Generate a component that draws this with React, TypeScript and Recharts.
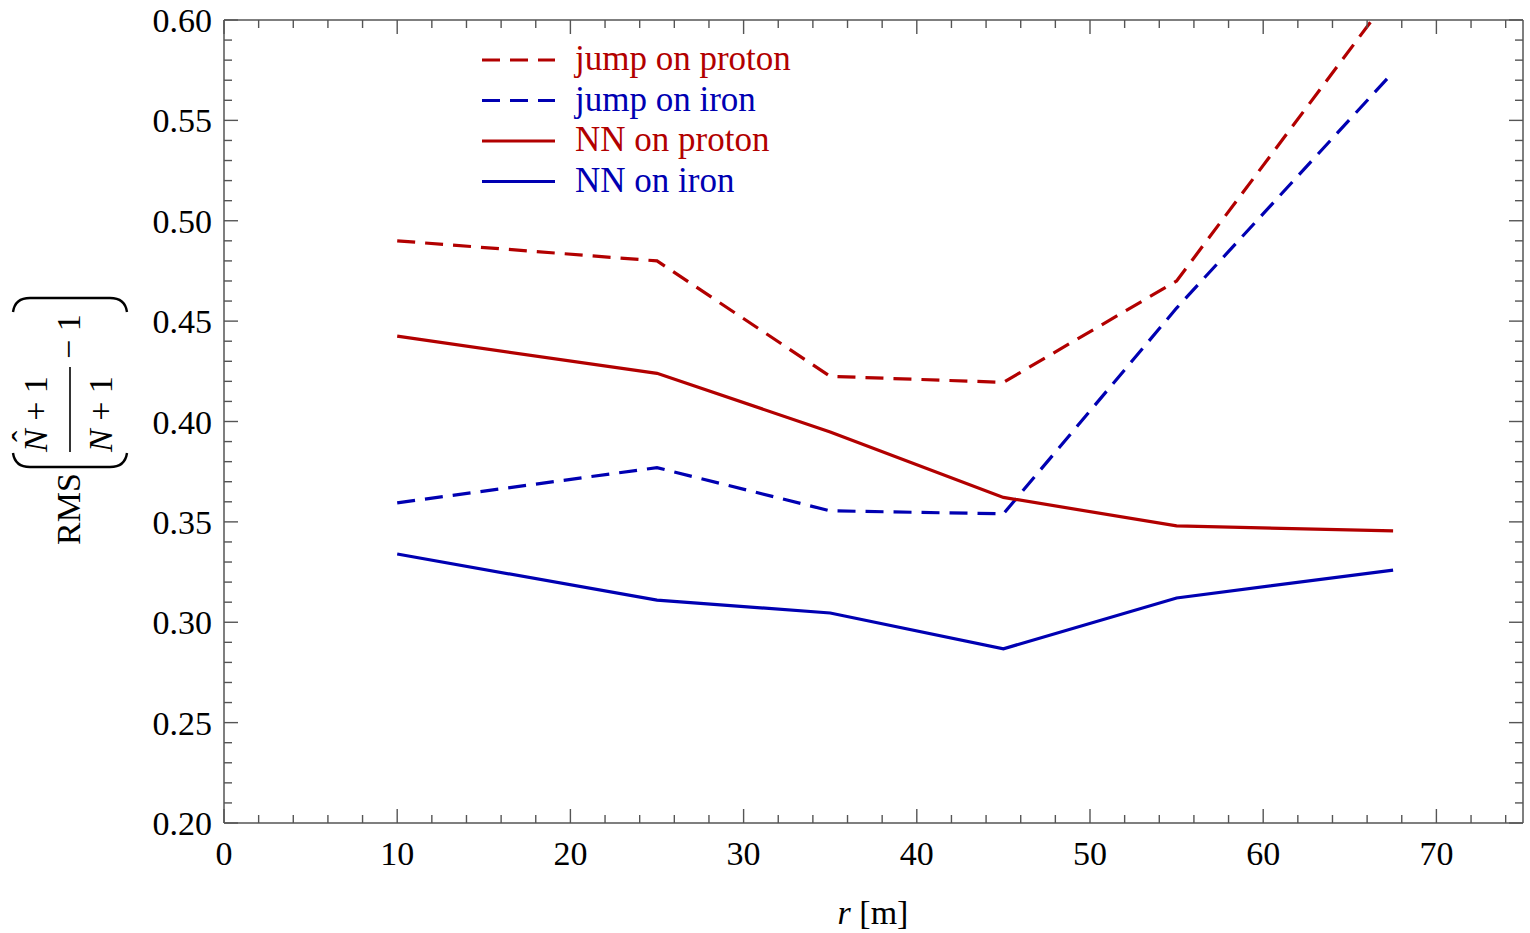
import React from 'react';
import { LineChart, Line, XAxis, YAxis } from 'recharts';

// ---- data ----
const rValues = [10, 25, 35, 45, 55, 67.5];
const jumpProton = [0.49, 0.48, 0.4225, 0.4195, 0.47, 0.614];
const jumpIron = [0.3595, 0.377, 0.3555, 0.354, 0.4565, 0.574];
const nnProton = [0.4425, 0.424, 0.3948, 0.3622, 0.348, 0.3455];
const nnIron = [0.334, 0.311, 0.3046, 0.2868, 0.3121, 0.326];

const seriesNames = ['jump on proton', 'jump on iron', 'NN on proton', 'NN on iron'];
const xMajorTicks = [0, 10, 20, 30, 40, 50, 60, 70];
const yMajorTicks = [0.2, 0.25, 0.3, 0.35, 0.4, 0.45, 0.5, 0.55, 0.6];
const xMinorStep = 2;
const yMinorStep = 0.01;

const xAllTicks: number[] = [];
for (let v = 0; v <= 75; v += xMinorStep) xAllTicks.push(v);
const yAllTicks: number[] = [];
for (let i = 20; i <= 60; i += 1) yAllTicks.push(Math.round(i * yMinorStep * 100) / 100);

const data = rValues.map((r, i) => ({
  r,
  jumpProton: jumpProton[i],
  jumpIron: jumpIron[i],
  nnProton: nnProton[i],
  nnIron: nnIron[i],
}));

const RED = '#b20000';
const BLUE = '#0000b2';
const FRAME = '#555555';
const FONT = '"Liberation Serif", "Times New Roman", serif';
const FS = 34;

const isXMajor = (v: number) => xMajorTicks.some((m) => Math.abs(m - v) < 1e-6);
const isYMajor = (v: number) => yMajorTicks.some((m) => Math.abs(m - v) < 1e-6);

const BottomTick = (props: any) => {
  const { x, y, payload } = props;
  const v = Number(payload.value);
  const major = isXMajor(v);
  return (
    <g>
      <line x1={x} x2={x} y1={y} y2={y - (major ? 14 : 8)} stroke={FRAME} strokeWidth={1.4} />
      {major && (
        <text x={x} y={y + 42} textAnchor="middle" fontSize={FS} fontFamily={FONT} fill="#000">
          {v}
        </text>
      )}
    </g>
  );
};

const TopTick = (props: any) => {
  const { x, y, payload } = props;
  const v = Number(payload.value);
  const major = isXMajor(v);
  return <line x1={x} x2={x} y1={y} y2={y + (major ? 14 : 8)} stroke={FRAME} strokeWidth={1.4} />;
};

const LeftTick = (props: any) => {
  const { x, y, payload } = props;
  const v = Number(payload.value);
  const major = isYMajor(v);
  return (
    <g>
      <line x1={x} x2={x + (major ? 14 : 8)} y1={y} y2={y} stroke={FRAME} strokeWidth={1.4} />
      {major && (
        <text x={x - 12} y={y + 12} textAnchor="end" fontSize={FS} fontFamily={FONT} fill="#000">
          {v.toFixed(2)}
        </text>
      )}
    </g>
  );
};

const RightTick = (props: any) => {
  const { x, y, payload } = props;
  const v = Number(payload.value);
  const major = isYMajor(v);
  return <line x1={x} x2={x - (major ? 14 : 8)} y1={y} y2={y} stroke={FRAME} strokeWidth={1.4} />;
};

const legendItems = [
  { name: seriesNames[0], color: RED, dashed: true },
  { name: seriesNames[1], color: BLUE, dashed: true },
  { name: seriesNames[2], color: RED, dashed: false },
  { name: seriesNames[3], color: BLUE, dashed: false },
];

const Overlay = () => (
  <svg
    width={1530}
    height={933}
    style={{ position: 'absolute', left: 0, top: 0, pointerEvents: 'none' }}
  >
    {/* legend */}
    {legendItems.map((it, i) => {
      const cy = 60 + i * 40.5;
      return (
        <g key={it.name}>
          <line
            x1={482}
            x2={555}
            y1={cy}
            y2={cy}
            stroke={it.color}
            strokeWidth={3}
            strokeDasharray={it.dashed ? '18 10' : undefined}
          />
          <text x={575} y={cy + 10} fontSize={35} fontFamily={FONT} fill={it.color}>
            {it.name}
          </text>
        </g>
      );
    })}
    {/* x axis title */}
    <text x={873} y={924} textAnchor="middle" fontSize={FS} fontFamily={FONT} fill="#000">
      <tspan fontStyle="italic">r</tspan> [m]
    </text>
    {/* y axis title: RMS( (N^+1)/(N+1) - 1 ) */}
    <g transform="translate(70, 545) rotate(-90)" fontFamily={FONT} fontSize={FS} fill="#000">
      <text x={0} y={10}>RMS</text>
      <path d="M 92 -57 Q 78 -55 78 -40 L 78 40 Q 78 55 92 57" fill="none" stroke="#000" strokeWidth={2.4} />
      <text x={93} y={-23}>
        <tspan fontStyle="italic">N</tspan> + 1
      </text>
      <text x={103} y={-34}>ˆ</text>
      <line x1={93} x2={178} y1={0} y2={0} stroke="#000" strokeWidth={1.6} />
      <text x={93} y={42}>
        <tspan fontStyle="italic">N</tspan> + 1
      </text>
      <text x={186} y={10}>− 1</text>
      <path d="M 233 -57 Q 247 -55 247 -40 L 247 40 Q 247 55 233 57" fill="none" stroke="#000" strokeWidth={2.4} />
    </g>
  </svg>
);

export default function App() {
  return (
    <div style={{ position: 'absolute', left: 0, top: 0, width: 1530, height: 933, background: '#fff' }}>
      <LineChart
        width={1530}
        height={933}
        data={data}
        margin={{ top: 19, right: 6, bottom: 0, left: 0 }}
      >
        <XAxis
          dataKey="r"
          type="number"
          domain={[0, 75]}
          ticks={xAllTicks}
          interval={0}
          height={110}
          tickSize={0}
          tickMargin={0}
          tickLine={false}
          axisLine={{ stroke: FRAME, strokeWidth: 1.5 }}
          tick={<BottomTick />}
          allowDataOverflow
        />
        <XAxis
          xAxisId="top"
          orientation="top"
          dataKey="r"
          type="number"
          domain={[0, 75]}
          ticks={xAllTicks}
          interval={0}
          height={1}
          tickSize={0}
          tickMargin={0}
          tickLine={false}
          axisLine={{ stroke: FRAME, strokeWidth: 1.5 }}
          tick={<TopTick />}
          allowDataOverflow
        />
        <YAxis
          type="number"
          domain={[0.2, 0.6]}
          ticks={yAllTicks}
          interval={0}
          width={224}
          tickSize={0}
          tickMargin={0}
          tickLine={false}
          axisLine={{ stroke: FRAME, strokeWidth: 1.5 }}
          tick={<LeftTick />}
          allowDataOverflow
        />
        <YAxis
          yAxisId="right"
          orientation="right"
          type="number"
          domain={[0.2, 0.6]}
          ticks={yAllTicks}
          interval={0}
          width={1}
          tickSize={0}
          tickMargin={0}
          tickLine={false}
          axisLine={{ stroke: FRAME, strokeWidth: 1.5 }}
          tick={<RightTick />}
          allowDataOverflow
        />
        <Line xAxisId="top" yAxisId="right" dataKey="jumpProton" stroke={RED} strokeWidth={3.2} strokeDasharray="18 10" dot={false} isAnimationActive={false} />
        <Line xAxisId="top" yAxisId="right" dataKey="jumpIron" stroke={BLUE} strokeWidth={3.2} strokeDasharray="18 10" dot={false} isAnimationActive={false} />
        <Line dataKey="nnProton" stroke={RED} strokeWidth={3.2} dot={false} isAnimationActive={false} />
        <Line dataKey="nnIron" stroke={BLUE} strokeWidth={3.2} dot={false} isAnimationActive={false} />
      </LineChart>
      <Overlay />
    </div>
  );
}
